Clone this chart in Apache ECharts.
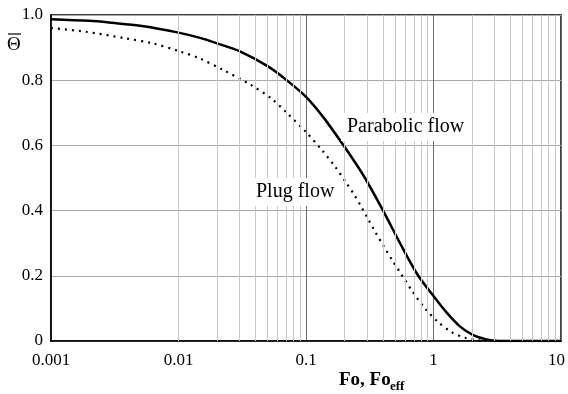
<!DOCTYPE html>
<html>
<head>
<meta charset="utf-8">
<script src="https://cdn.jsdelivr.net/npm/echarts@6/dist/echarts.min.js"></script>
<style>
  html, body { margin: 0; padding: 0; background: #fff; }
  #chart { width: 568px; height: 394px; }
</style>
</head>
<body>
<div id="chart"></div>
<script>
// values
const parabolicFo = [0.001, 0.002, 0.003, 0.005, 0.01, 0.015, 0.02, 0.03, 0.05, 0.07, 0.1, 0.137, 0.196, 0.28, 0.39, 0.58, 0.76, 1, 1.27, 1.61, 2.05, 2.6, 3.1, 4, 10]
const parabolicTheta = [0.987, 0.982, 0.976, 0.967, 0.946, 0.929, 0.913, 0.889, 0.843, 0.801, 0.749, 0.686, 0.601, 0.51, 0.41, 0.281, 0.2, 0.138, 0.087, 0.045, 0.018, 0.005, 0.001, 0, 0]

const plugFo = [0.001, 0.00185, 0.0039, 0.0063, 0.0103, 0.0148, 0.0225, 0.0364, 0.0538, 0.0706, 0.1, 0.133, 0.169, 0.208, 0.242, 0.273, 0.308, 0.348, 0.405, 0.485, 0.563, 0.675, 0.857, 1.09, 1.39, 1.77, 2.18, 2.6]
const plugTheta = [0.96, 0.949, 0.928, 0.913, 0.888, 0.866, 0.831, 0.787, 0.743, 0.7, 0.641, 0.586, 0.535, 0.484, 0.445, 0.41, 0.373, 0.336, 0.292, 0.242, 0.203, 0.155, 0.1, 0.058, 0.027, 0.01, 0.003, 0]

const xTicks = ['0.001', '0.01', '0.1', '1', '10']
const yTicks = ['0', '0.2', '0.4', '0.6', '0.8', '1.0']

// light grid lines at 2..9 inside every decade
const minorGrid = []
for (let d = 0.001; d < 5; d *= 10) {
  for (let k = 2; k <= 9; k++) minorGrid.push(+(d * k).toPrecision(3))
}

const serif = '"Liberation Serif", "DejaVu Serif", serif'

let chart = echarts.init(document.getElementById('chart'))
let option = {
  animation: false,
  backgroundColor: '#fff',
  grid: {
    left: 51, right: 7, top: 15, bottom: 53,
    containLabel: false,
    outerBoundsMode: 'none',
    show: true, borderColor: '#000', borderWidth: 1.5
  },
  xAxis: {
    type: 'log',
    logBase: 10,
    min: 0.001,
    max: 10,
    interval: 1,
    axisLine: { lineStyle: { color: '#000', width: 1.5 } },
    axisTick: { show: false },
    axisLabel: {
      color: '#000', fontFamily: serif, fontSize: 17, margin: 11,
      formatter: v => {
        let i = Math.round(Math.log10(v)) + 3
        // last label sits a bit left so it stays on the page
        return i === xTicks.length - 1 ? '{r|' + xTicks[i] + '}' : xTicks[i]
      },
      rich: {
        r: { fontFamily: serif, fontSize: 17, color: '#000', padding: [0, 9, 0, 0] }
      }
    },
    splitLine: { show: true, lineStyle: { color: '#6a6a6a', width: 1 } }
  },
  yAxis: {
    type: 'value',
    min: 0,
    max: 1,
    interval: 0.2,
    axisLine: { show: true, lineStyle: { color: '#000', width: 1.5 } },
    axisTick: { show: false },
    axisLabel: {
      color: '#000', fontFamily: serif, fontSize: 17, margin: 8,
      formatter: v => yTicks[Math.round(v * 5)]
    },
    splitLine: { show: true, lineStyle: { color: '#a8a8a8', width: 1 } }
  },
  series: [
    {
      name: 'Parabolic flow',
      type: 'line',
      smooth: 0.3,
      showSymbol: false,
      data: parabolicFo.map((x, i) => [x, parabolicTheta[i]]),
      lineStyle: { color: '#000', width: 2.5 },
      z: 3,
      markLine: {
        silent: true,
        symbol: ['none', 'none'],
        label: { show: false },
        lineStyle: { color: '#c8c8c8', width: 1, type: 'solid' },
        data: minorGrid.map(v => ({ xAxis: v }))
      }
    },
    {
      name: 'Plug flow',
      type: 'line',
      smooth: 0.3,
      showSymbol: false,
      data: plugFo.map((x, i) => [x, plugTheta[i]]),
      lineStyle: { color: '#000', width: 2.2, type: [2, 5] },
      z: 3
    }
  ],
  graphic: [
    {
      type: 'text', z: 100, left: 341, top: 113,
      style: {
        text: 'Parabolic flow', font: '20px ' + serif, fill: '#000',
        backgroundColor: '#fff', padding: [4, 6]
      }
    },
    {
      type: 'text', z: 100, left: 250, top: 178,
      style: {
        text: 'Plug flow', font: '20px ' + serif, fill: '#000',
        backgroundColor: '#fff', padding: [4, 6]
      }
    },
    {
      type: 'text', z: 100, left: 7, top: 36,
      style: { text: 'Θ', font: '19px ' + serif, fill: '#000' }
    },
    {
      type: 'line', z: 100,
      shape: { x1: 8, y1: 34, x2: 21, y2: 34 },
      style: { stroke: '#000', lineWidth: 1.2 }
    },
    {
      type: 'text', z: 100, left: 339, top: 371,
      style: { text: 'Fo, Fo', font: 'bold 19px ' + serif, fill: '#000' }
    },
    {
      type: 'text', z: 100, left: 390, top: 380,
      style: { text: 'eff', font: 'bold 13px ' + serif, fill: '#000' }
    }
  ]
}
chart.setOption(option)
</script>
</body>
</html>
